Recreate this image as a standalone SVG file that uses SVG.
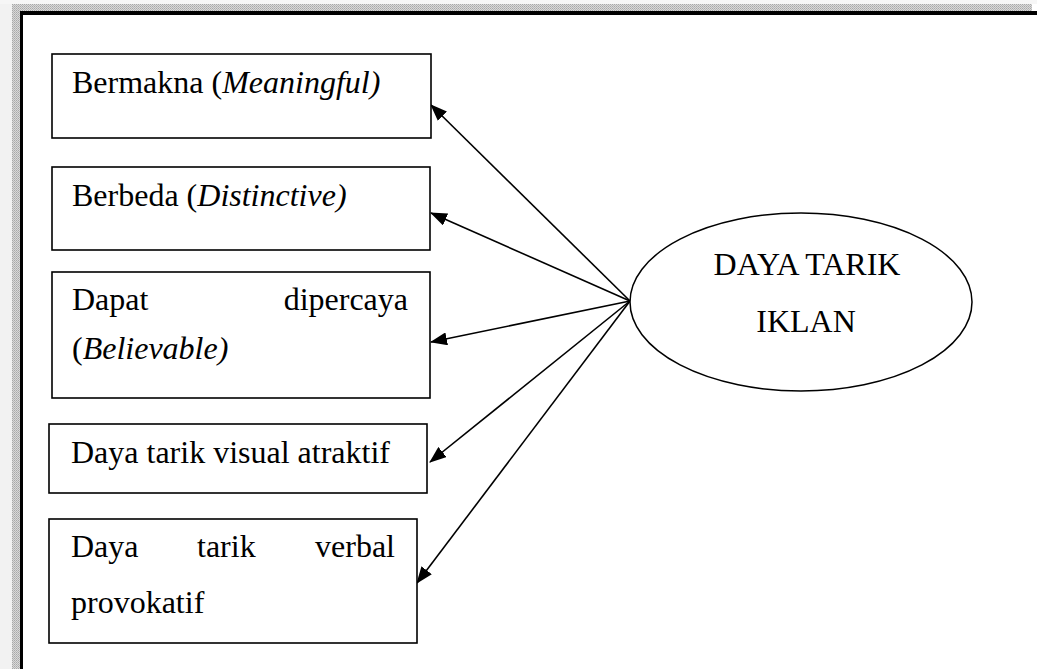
<svg xmlns="http://www.w3.org/2000/svg" width="1037" height="669" viewBox="0 0 1037 669">
  <style>
    .box { fill: #ffffff; stroke: #000000; stroke-width: 1.6; }
    .txt { font-family: "Liberation Serif", "Times New Roman", serif; font-size: 32px; fill: #000000; }
    .it { font-style: italic; }
    .edge { stroke: #000000; stroke-width: 1.6; fill: none; marker-end: url(#head); }
  </style>
  <defs>
    <marker id="head" markerUnits="userSpaceOnUse" markerWidth="17" markerHeight="13" refX="16" refY="6.5" orient="auto">
      <path d="M0,0 L17,6.5 L0,13 Z" fill="#000000"/>
    </marker>
    <pattern id="dots" width="2" height="2" patternUnits="userSpaceOnUse">
      <rect width="2" height="2" fill="#d8d8d8"/>
      <rect width="1" height="1" fill="#a8a8a8"/>
      <rect x="1" y="1" width="1" height="1" fill="#b8b8b8"/>
    </pattern>
  </defs>

  <!-- page frame -->
  <g id="frame">
    <rect x="0" y="0" width="1037" height="669" fill="#ffffff"/>
    <rect x="0" y="0" width="12" height="669" fill="#f2f2f2"/>
    <rect x="0" y="0" width="1037" height="4" fill="#f6f6f6"/>
    <rect x="12" y="4" width="1020" height="7" fill="url(#dots)"/>
    <rect x="12" y="4" width="8" height="665" fill="url(#dots)"/>
    <rect x="20" y="11" width="1017" height="4" fill="#000000"/>
    <rect x="20" y="11" width="3" height="658" fill="#000000"/>
  </g>

  <!-- connectors from the central ellipse to each box -->
  <g id="connectors">
    <line class="edge" x1="630" y1="301" x2="431" y2="105"/>
    <line class="edge" x1="630" y1="301" x2="431" y2="213"/>
    <line class="edge" x1="630" y1="301" x2="431" y2="342"/>
    <line class="edge" x1="630" y1="301" x2="430" y2="462"/>
    <line class="edge" x1="630" y1="301" x2="417" y2="583"/>
  </g>

  <g id="bermakna">
    <rect class="box" x="52" y="54" width="379" height="84"/>
    <text class="txt" x="72" y="93">Bermakna (<tspan class="it">Meaningful)</tspan></text>
  </g>

  <g id="berbeda">
    <rect class="box" x="52" y="167" width="378" height="83"/>
    <text class="txt" x="72" y="206">Berbeda (<tspan class="it">Distinctive)</tspan></text>
  </g>

  <g id="dapat-dipercaya">
    <rect class="box" x="52" y="272" width="378" height="126"/>
    <text class="txt" x="72" y="310">Dapat</text>
    <text class="txt" x="408" y="310" text-anchor="end">dipercaya</text>
    <text class="txt" x="72" y="359">(<tspan class="it">Believable)</tspan></text>
  </g>

  <g id="visual">
    <rect class="box" x="49" y="424" width="378" height="69"/>
    <text class="txt" x="71" y="463">Daya tarik visual atraktif</text>
  </g>

  <g id="verbal">
    <rect class="box" x="49" y="519" width="368" height="124"/>
    <text class="txt" x="71" y="557">Daya</text>
    <text class="txt" x="197" y="557">tarik</text>
    <text class="txt" x="395" y="557" text-anchor="end">verbal</text>
    <text class="txt" x="71" y="613">provokatif</text>
  </g>

  <g id="daya-tarik-iklan">
    <ellipse cx="801" cy="302" rx="171" ry="89" fill="#ffffff" stroke="#000000" stroke-width="1.5"/>
    <text class="txt" x="807" y="275" text-anchor="middle">DAYA TARIK</text>
    <text class="txt" x="806" y="332" text-anchor="middle">IKLAN</text>
  </g>
</svg>
